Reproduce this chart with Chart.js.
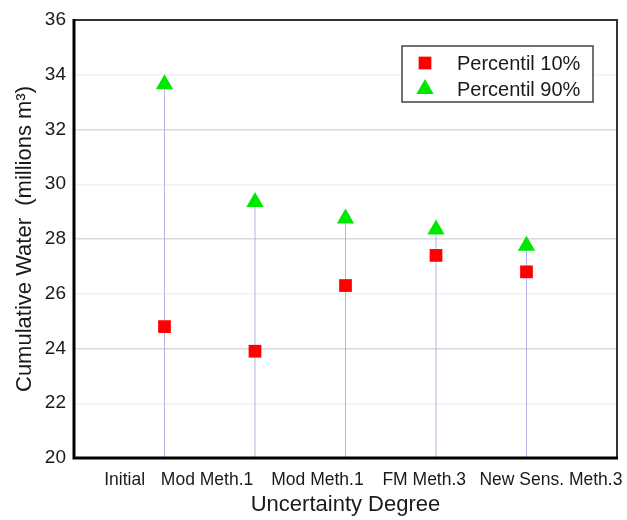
<!DOCTYPE html>
<html>
<head>
<meta charset="utf-8">
<script src="https://cdn.jsdelivr.net/npm/chart.js@4.4.1/dist/chart.umd.min.js"></script>
<style>
  html, body { margin: 0; padding: 0; background: #fff; }
  #wrap { width: 627px; height: 520px; }
</style>
</head>
<body>
<div id="wrap"><canvas id="chart" width="627" height="520"></canvas></div>
<script>
(function(){
    // uncertainty steps along the x axis
    let categories = ['Initial', 'Mod Meth.1', 'Mod Meth.1', 'FM Meth.3', 'New Sens. Meth.3'];
    let p10 = [24.8, 23.9, 26.3, 27.4, 26.8];
    let p90 = [33.65, 29.35, 28.75, 28.35, 27.75];
    let yTicks = [20, 22, 24, 26, 28, 30, 32, 34, 36];

    let font = "'Liberation Sans', Arial, Helvetica, sans-serif";
    // where the category text sits on the x axis (labels are flowed like text in the original)
    let labelPos = [0.56, 1.47, 2.69, 3.87, 5.27];

    let p10Points = [];
    let p90Points = [];
    let dropLines = [];
    for (let i = 0; i < categories.length; i++) {
        p10Points.push({x: i + 1, y: p10[i]});
        p90Points.push({x: i + 1, y: p90[i]});
        dropLines.push({x: i + 1, y: yTicks[0]});
        dropLines.push({x: i + 1, y: p90[i]});
        dropLines.push({x: i + 1, y: null});
    }

    let framePlugin = {
        id: 'frame',
        afterDatasetsDraw: function(chart) {
            let a = chart.chartArea;
            let ctx = chart.ctx;
            ctx.save();
            ctx.strokeStyle = '#333';
            ctx.lineWidth = 2;
            ctx.beginPath();
            ctx.moveTo(a.left, a.top);
            ctx.lineTo(a.right, a.top);
            ctx.lineTo(a.right, a.bottom);
            ctx.stroke();
            ctx.strokeStyle = '#000';
            ctx.lineWidth = 3;
            ctx.beginPath();
            ctx.moveTo(a.left, a.top - 1);
            ctx.lineTo(a.left, a.bottom);
            ctx.lineTo(a.right + 1, a.bottom);
            ctx.stroke();
            ctx.restore();
        }
    };

    // boxed legend inside the plot, drawn by hand
    let legendPlugin = {
        id: 'boxLegend',
        afterDraw: function(chart) {
            let ctx = chart.ctx;
            let x = 402, y = 46, w = 191, h = 56;
            ctx.save();
            ctx.fillStyle = '#fff';
            ctx.fillRect(x, y, w, h);
            ctx.strokeStyle = '#444';
            ctx.lineWidth = 1.5;
            ctx.strokeRect(x, y, w, h);
            let sets = [chart.data.datasets[0], chart.data.datasets[1]];
            for (let i = 0; i < sets.length; i++) {
                let ds = sets[i];
                let cy = y + 17 + i * 26;
                ctx.fillStyle = ds.backgroundColor;
                ctx.strokeStyle = ds.backgroundColor;
                Chart.helpers.drawPoint(ctx, {
                    pointStyle: ds.pointStyle,
                    radius: ds.pointRadius,
                    rotation: 0,
                    borderWidth: 0
                }, x + 23, cy);
                ctx.fillStyle = '#1a1a1a';
                ctx.font = '20px ' + font;
                ctx.textBaseline = 'middle';
                ctx.textAlign = 'left';
                ctx.fillText(ds.label, x + 55, cy + 1);
            }
            ctx.restore();
        }
    };

    let ctx = document.getElementById('chart').getContext('2d');
    new Chart(ctx, {
        type: 'scatter',
        data: {
            datasets: [{
                label: 'Percentil 10%',
                data: p10Points,
                pointStyle: 'rect',
                pointRadius: 9,
                backgroundColor: '#ff0000',
                borderColor: '#ff0000',
                borderWidth: 0
            }, {
                label: 'Percentil 90%',
                data: p90Points,
                pointStyle: 'triangle',
                pointRadius: 10,
                backgroundColor: '#00e800',
                borderColor: '#00e800',
                borderWidth: 0
            }, {
                label: 'drop',
                data: dropLines,
                showLine: true,
                spanGaps: false,
                pointRadius: 0,
                borderColor: 'rgba(170,170,220,0.85)',
                borderWidth: 1
            }]
        },
        options: {
            responsive: false,
            animation: false,
            layout: { padding: { top: 20, right: 6, left: 0, bottom: 0 } },
            plugins: {
                legend: { display: false },
                tooltip: { enabled: false }
            },
            scales: {
                x: {
                    type: 'linear',
                    min: 0,
                    max: 6,
                    afterBuildTicks: function(scale) {
                        scale.ticks = labelPos.map(function(v){ return {value: v}; });
                    },
                    afterFit: function(scale) {
                        scale.height = 62;
                        scale.paddingLeft = 0;
                        scale.paddingRight = 0;
                    },
                    grid: { display: false, drawTicks: false },
                    border: { display: false },
                    ticks: {
                        autoSkip: false,
                        maxRotation: 0,
                        padding: 12,
                        color: '#1a1a1a',
                        font: { family: font, size: 17.5 },
                        callback: function(v, i) { return categories[i]; }
                    },
                    title: {
                        display: true,
                        text: 'Uncertainty Degree',
                        color: '#1a1a1a',
                        font: { family: font, size: 22 },
                        padding: { top: 0, bottom: 2 }
                    }
                },
                y: {
                    min: yTicks[0],
                    max: yTicks[yTicks.length - 1],
                    afterFit: function(scale) { scale.width = 74; },
                    grid: {
                        drawTicks: false,
                        lineWidth: 1.5,
                        color: function(c) {
                            return c.tick && c.tick.value % 4 === 0 ? '#dadada' : '#f1f1f1';
                        }
                    },
                    border: { display: false },
                    ticks: {
                        stepSize: 2,
                        padding: 8,
                        color: '#1a1a1a',
                        font: { family: font, size: 19 }
                    },
                    title: {
                        display: true,
                        text: 'Cumulative Water  (millions m\u00b3)',
                        color: '#1a1a1a',
                        font: { family: font, size: 22 },
                        padding: { top: 12, bottom: 0 }
                    }
                }
            }
        },
        plugins: [framePlugin, legendPlugin]
    });
})()
</script>
</body>
</html>
